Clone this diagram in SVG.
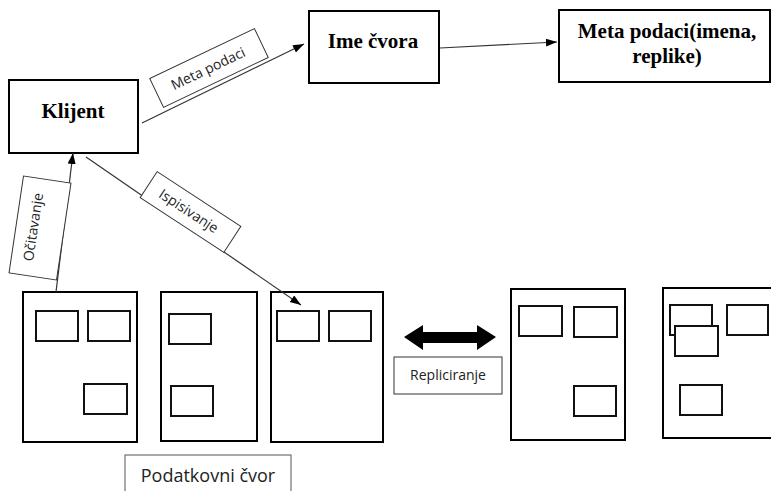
<svg xmlns="http://www.w3.org/2000/svg" width="771" height="491" viewBox="0 0 771 491">
<defs>
<style>
.node{fill:#fff;stroke:#000;stroke-width:2}
.inner{fill:#fff;stroke:#111;stroke-width:2}
.lbl{fill:#fff;stroke:#333;stroke-width:1}
.serif{font-family:"Liberation Serif","Times New Roman",serif;font-weight:bold;font-size:21px;fill:#000;text-anchor:middle}
.sans{font-family:"Open Sans","Noto Sans","DejaVu Sans",sans-serif;font-size:14px;fill:#222;text-anchor:middle}
.conn{stroke:#333;stroke-width:1.2;fill:none}
</style>
<marker id="ah" markerUnits="userSpaceOnUse" markerWidth="12" markerHeight="10" refX="11" refY="4" orient="auto">
<path d="M0,0 L11,4 L0,8 Z" fill="#000"/>
</marker>
</defs>
<rect width="771" height="491" fill="#fff"/>

<g id="klijent">
<rect class="node" x="9" y="80" width="129" height="73"/>
<text class="serif" x="73" y="118">Klijent</text>
</g>

<g id="ime-cvora">
<rect class="node" x="309" y="11" width="130" height="72"/>
<text class="serif" x="373" y="48">Ime čvora</text>
</g>

<g id="meta-podaci-node">
<rect class="node" x="559" y="10" width="211" height="72"/>
<text class="serif" x="667" y="38">Meta podaci(imena,</text>
<text class="serif" x="667" y="63">replike)</text>
</g>

<g id="datanode-1">
<rect class="node" x="23" y="292" width="114" height="150"/>
<rect class="inner" x="36" y="311" width="42" height="30"/>
<rect class="inner" x="88" y="311" width="42" height="30"/>
<rect class="inner" x="84" y="384" width="43" height="30"/>
</g>

<g id="datanode-2">
<rect class="node" x="161" y="292" width="96" height="149"/>
<rect class="inner" x="169" y="314" width="42" height="30"/>
<rect class="inner" x="171" y="386" width="42" height="30"/>
</g>

<g id="datanode-3">
<rect class="node" x="271" y="292" width="112" height="150"/>
<rect class="inner" x="277" y="311" width="42" height="30"/>
<rect class="inner" x="329" y="311" width="42" height="30"/>
</g>

<g id="datanode-4">
<rect class="node" x="511" y="289" width="114" height="151"/>
<rect class="inner" x="519" y="306" width="43" height="30"/>
<rect class="inner" x="574" y="307" width="43" height="30"/>
<rect class="inner" x="574" y="386" width="42" height="30"/>
</g>

<g id="datanode-5">
<rect class="node" x="663" y="288" width="115" height="150"/>
<rect class="inner" x="670" y="305" width="42" height="30"/>
<rect class="inner" x="675" y="326" width="43" height="30"/>
<rect class="inner" x="727" y="305" width="41" height="30"/>
<rect class="inner" x="680" y="385" width="42" height="30"/>
</g>

<g id="connectors">
<line class="conn" x1="142" y1="123" x2="304" y2="44" marker-end="url(#ah)"/>
<line class="conn" x1="440" y1="48" x2="557" y2="42" marker-end="url(#ah)"/>
<line class="conn" x1="56" y1="292" x2="73" y2="153" marker-end="url(#ah)"/>
<line class="conn" x1="86" y1="157" x2="301" y2="305" marker-end="url(#ah)"/>
</g>

<g id="label-meta" transform="translate(209,68) rotate(-25.5)">
<rect class="lbl" x="-58" y="-16" width="116" height="32"/>
<text class="sans" x="-1" y="5">Meta podaci</text>
</g>

<g id="label-ocitavanje" transform="translate(40,228) rotate(-81.5)">
<rect class="lbl" x="-49" y="-24" width="98" height="48"/>
<text class="sans" x="0" y="-2">Očitavanje</text>
</g>

<g id="label-ispisivanje" transform="translate(190.5,212) rotate(33.2)">
<rect class="lbl" x="-50" y="-15.5" width="100" height="31"/>
<text class="sans" x="-2" y="5">Ispisivanje</text>
</g>

<g id="repliciranje">
<polygon points="404,337 423,325 423,332 477,332 477,325 496,337 477,350 477,343 423,343 423,350" fill="#000"/>
<rect class="lbl" x="394" y="357" width="108" height="37"/>
<text class="sans" x="448" y="380">Repliciranje</text>
</g>

<g id="podatkovni-cvor">
<rect x="125" y="455" width="166" height="45" fill="#fff" stroke="#555" stroke-width="1"/>
<text class="sans" x="208" y="482" style="font-size:18px">Podatkovni čvor</text>
</g>
</svg>
